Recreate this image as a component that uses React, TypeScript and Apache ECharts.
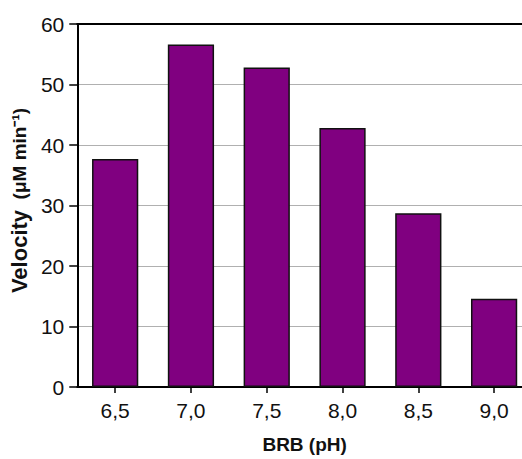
import React, { useEffect, useRef } from "react";
import * as echarts from "echarts";

const categories = ["6,5", "7,0", "7,5", "8,0", "8,5", "9,0"];
const velocity = [37.7, 56.6, 52.8, 42.8, 28.7, 14.6];
const yTicks = { min: 0, max: 60, interval: 10 };

export default function App() {
  const ref = useRef<HTMLDivElement>(null);
  useEffect(() => {
    if (!ref.current) return;
    const chart = echarts.init(ref.current, undefined, { renderer: "svg" });
    const font = "Liberation Sans, Arial, sans-serif";
    chart.setOption({
      animation: false,
      backgroundColor: "#ffffff",
      grid: { left: 77, top: 24, width: 455, height: 367, containLabel: false },
      xAxis: [
        {
          type: "category",
          data: categories,
          position: "bottom",
          axisLine: { show: true, lineStyle: { color: "#000", width: 2 } },
          axisTick: { show: true, alignWithLabel: true, length: 6, lineStyle: { color: "#000", width: 1.5 } },
          axisLabel: { color: "#111", fontSize: 21, fontFamily: font, margin: 13 },
          name: "BRB (pH)",
          nameLocation: "middle",
          nameGap: 48,
          nameTextStyle: { color: "#111", fontSize: 19, fontWeight: "bold", fontFamily: font },
        },
        {
          type: "category",
          data: categories,
          position: "top",
          axisLine: { show: true, lineStyle: { color: "#000", width: 2 } },
          axisTick: { show: false },
          axisLabel: { show: false },
        },
      ],
      yAxis: {
        type: "value",
        min: yTicks.min,
        max: yTicks.max,
        interval: yTicks.interval,
        axisLine: { show: true, lineStyle: { color: "#000", width: 2 } },
        axisTick: { show: true, length: 8, lineStyle: { color: "#000", width: 1.5 } },
        axisLabel: { color: "#111", fontSize: 21, fontFamily: font, margin: 13 },
        splitLine: { show: true, lineStyle: { color: "#b0b0b0", width: 1.2 } },
        name: "{a|Velocity}{b|\u00a0\u00a0(\u03bcM min\u207b\u00b9)}",
        nameLocation: "middle",
        nameGap: 43,
        nameRotate: 90,
        nameTextStyle: {
          color: "#111",
          fontFamily: font,
          padding: [0, 0, 0, 10],
          rich: {
            a: { fontSize: 22, fontWeight: "bold", fontFamily: font, color: "#111" },
            b: { fontSize: 19, fontWeight: "bold", fontFamily: font, color: "#111" },
          },
        },
      },
      series: [
        {
          type: "bar",
          data: velocity,
          xAxisIndex: 0,
          barCategoryGap: "39%",
          itemStyle: { color: "#800080", borderColor: "#111", borderWidth: 1.5 },
        },
      ],
    });
    return () => chart.dispose();
  }, []);
  return (
    <div style={{ width: 522, height: 459, position: "absolute", left: 0, top: 0, overflow: "hidden" }}>
      <div ref={ref} style={{ width: 536, height: 459 }} />
    </div>
  );
}
